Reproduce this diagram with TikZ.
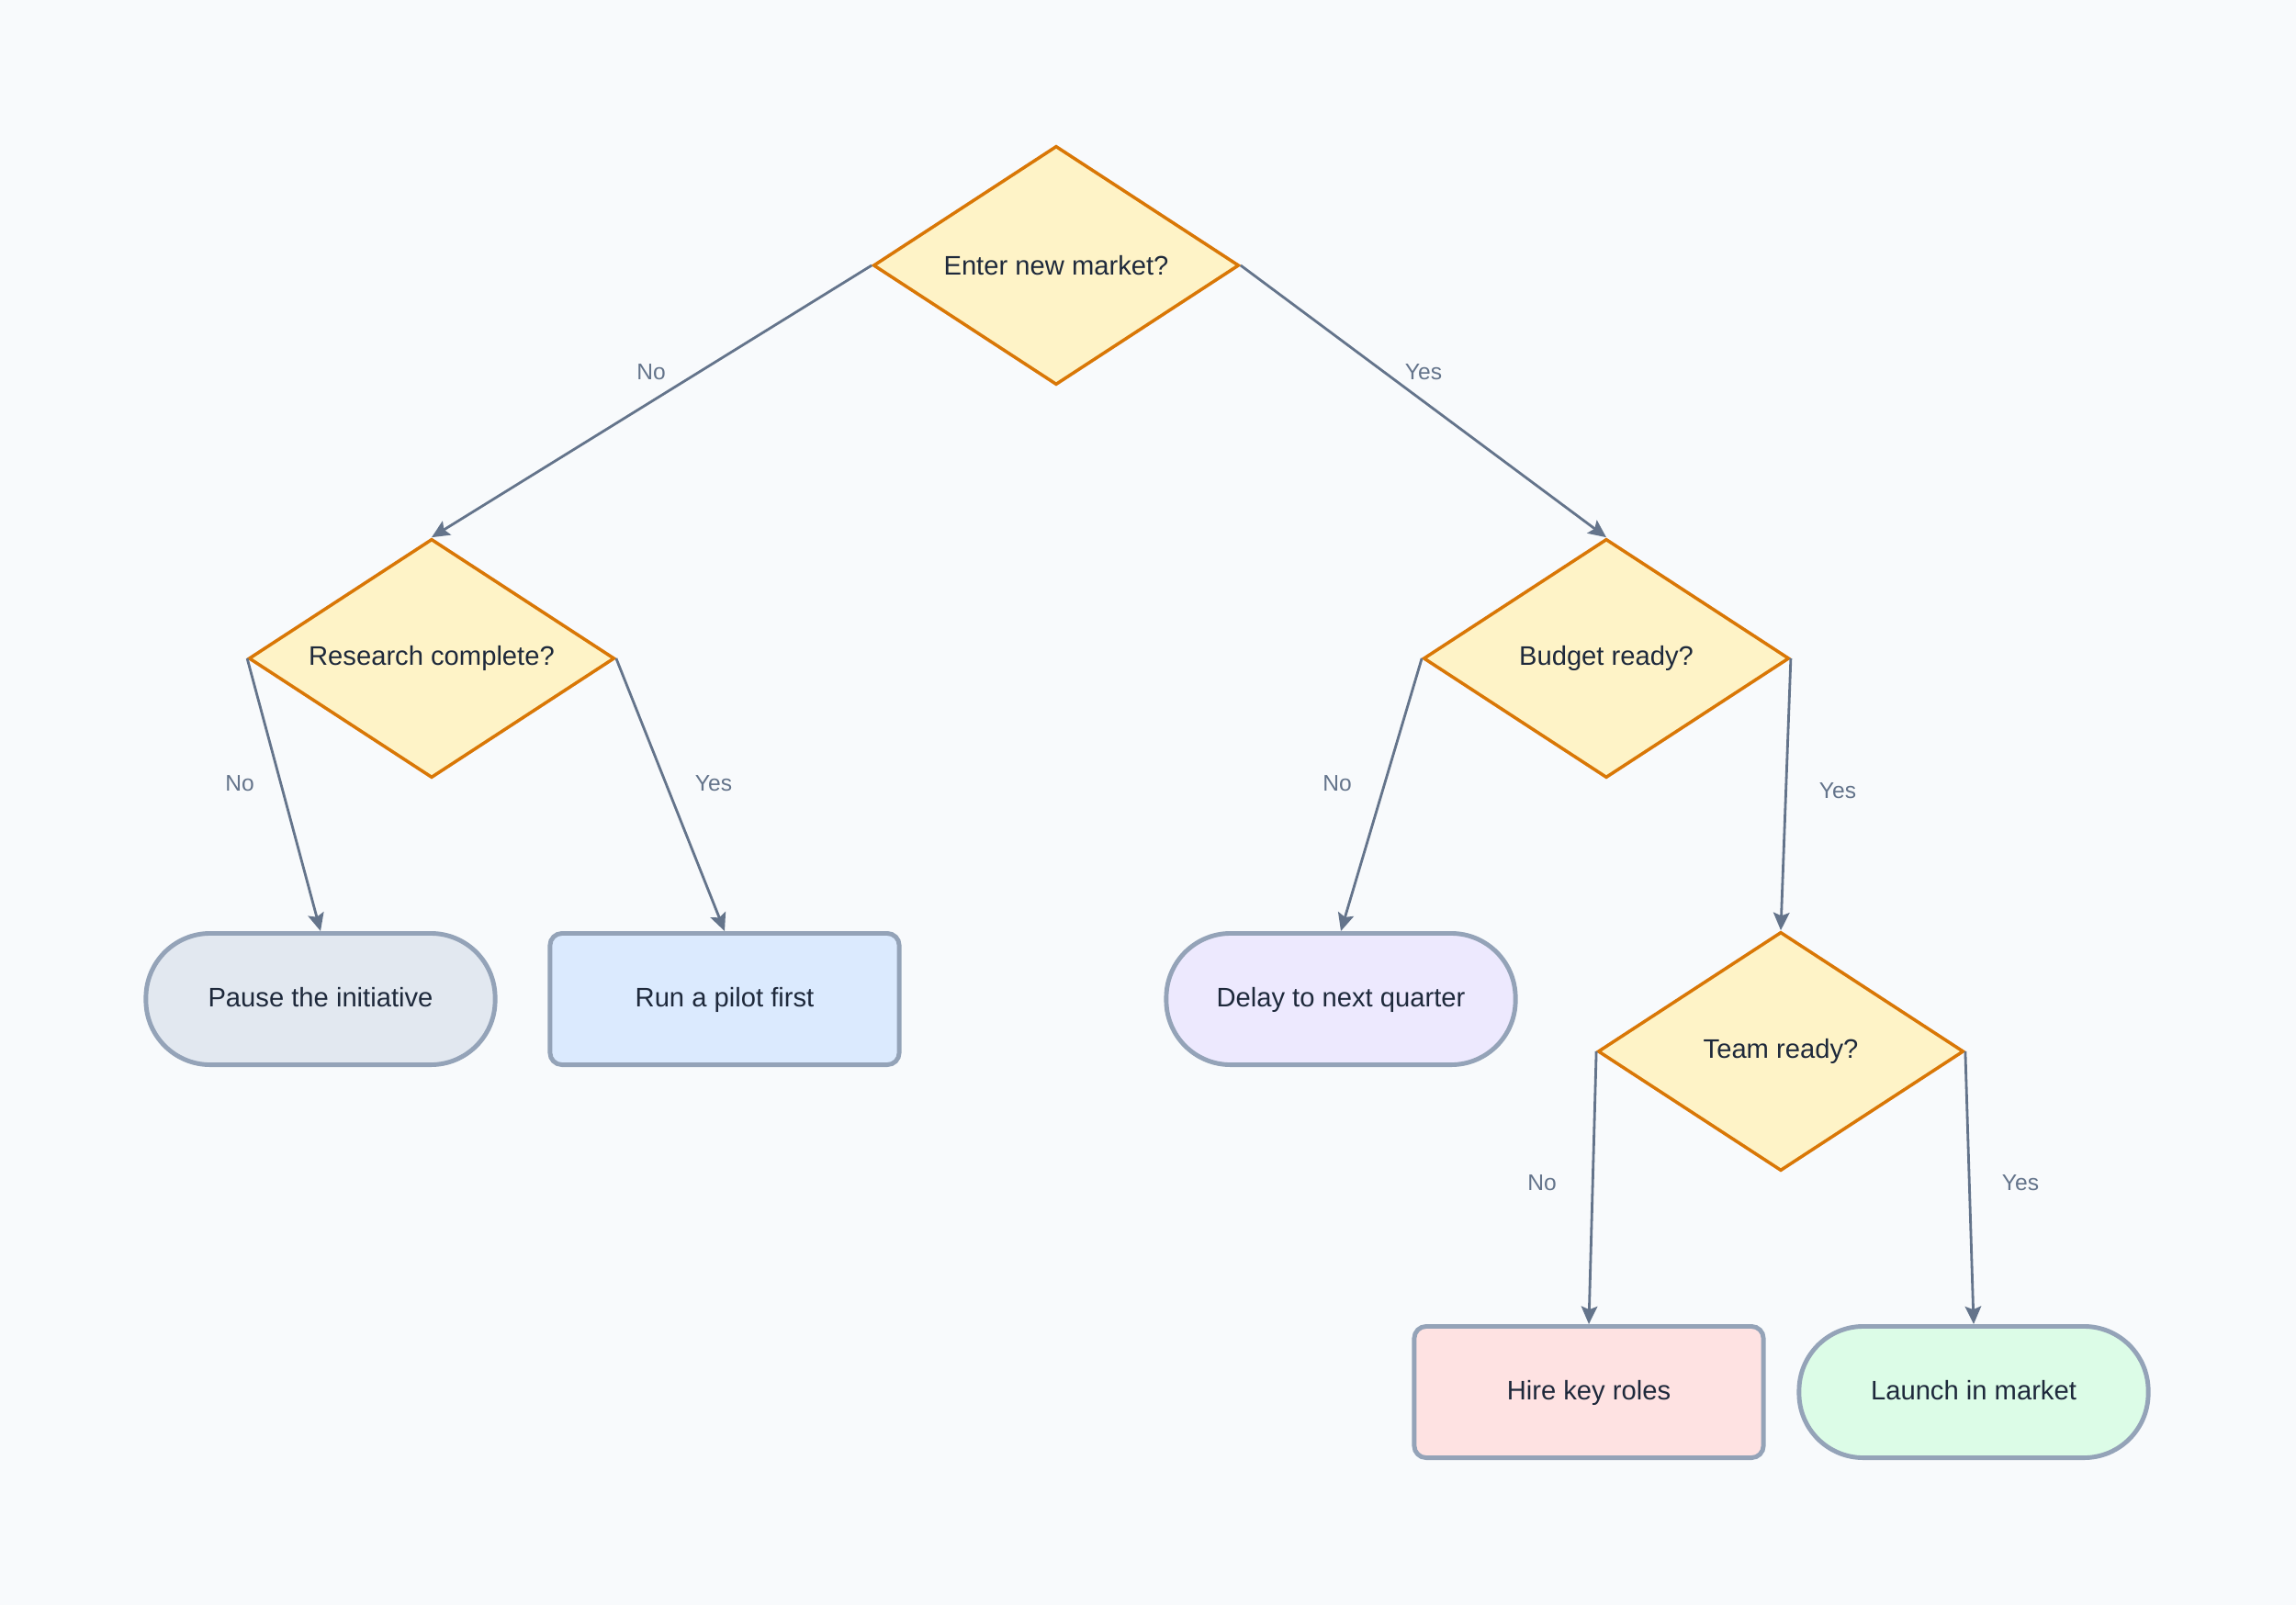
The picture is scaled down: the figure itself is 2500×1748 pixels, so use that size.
\documentclass[tikz,border=0pt]{standalone}
\usepackage{fontspec}
\setmainfont{Liberation Sans}
\usetikzlibrary{shapes.geometric,arrows.meta}
\definecolor{bg}{HTML}{F8FAFC}
\definecolor{dfill}{HTML}{FEF3C7}
\definecolor{dline}{HTML}{D97706}
\definecolor{edgec}{HTML}{64748B}
\definecolor{boxline}{HTML}{94A3B8}
\definecolor{txt}{HTML}{1E293B}
\definecolor{fslate}{HTML}{E2E8F0}
\definecolor{fblue}{HTML}{DBEAFE}
\definecolor{fviolet}{HTML}{EDE9FE}
\definecolor{fred}{HTML}{FEE2E2}
\definecolor{fgreen}{HTML}{DCFCE7}
\tikzset{
  decision/.style={diamond, draw=dline, fill=dfill, line width=1pt, inner sep=0pt,
    shape aspect=1.53, minimum width=3.98cm, minimum height=2.6cm, text=txt,
    font=\fontsize{8.3}{10}\selectfont},
  pill/.style={rectangle, draw=boxline, line width=1.4pt, rounded corners=0.7cm,
    minimum width=3.8cm, minimum height=1.43cm, text=txt, font=\fontsize{8.3}{10}\selectfont,
    text height=6.4pt, text depth=1.6pt},
  boxr/.style={rectangle, draw=boxline, line width=1.4pt, rounded corners=0.13cm,
    minimum width=3.8cm, minimum height=1.43cm, text=txt, font=\fontsize{8.3}{10}\selectfont,
    text height=6.4pt, text depth=1.6pt},
  conn/.style={draw=edgec, line width=0.8pt, -{Stealth[length=5.5pt,width=5pt,inset=1pt]}},
  lbl/.style={text=edgec, font=\fontsize{7}{9}\selectfont}
}
\begin{document}
\begin{tikzpicture}[x=0.01cm,y=-0.01cm]
\fill[bg] (0,0) rectangle (2500,1748);
\useasboundingbox (0,0) rectangle (2500,1748);

\node[decision] (enter) at (1150,289) {Enter new market?};
\node[decision] (research) at (470,717) {Research complete?};
\node[decision] (budget) at (1749,717) {Budget ready?};
\node[decision] (team) at (1939,1145) {Team ready?};

\node[pill, fill=fslate] (pause) at (349,1088) {Pause the initiative};
\node[boxr, fill=fblue] (pilot) at (789,1088) {Run a pilot first};
\node[pill, fill=fviolet] (delay) at (1460,1088) {Delay to next quarter};
\node[boxr, fill=fred] (hire) at (1730,1516) {Hire key roles};
\node[pill, fill=fgreen] (launch) at (2149,1516) {Launch in market};

\draw[conn] (enter.west) -- (research.north);
\draw[conn] (enter.east) -- (budget.north);
\draw[conn] (research.west) -- (pause.north);
\draw[conn] (research.east) -- (pilot.north);
\draw[conn] (budget.west) -- (delay.north);
\draw[conn] (budget.east) -- (team.north);
\draw[conn] (team.west) -- (hire.north);
\draw[conn] (team.east) -- (launch.north);

\node[lbl] (l1) at (709,405) {No};
\node[lbl] (l2) at (1550,405) {Yes};
\node[lbl] (l3) at (261,853) {No};
\node[lbl] (l4) at (777,853) {Yes};
\node[lbl] (l5) at (1456,853) {No};
\node[lbl] (l6) at (2001,861) {Yes};
\node[lbl] (l7) at (1679,1288) {No};
\node[lbl] (l8) at (2200,1288) {Yes};
\end{tikzpicture}
\end{document}
